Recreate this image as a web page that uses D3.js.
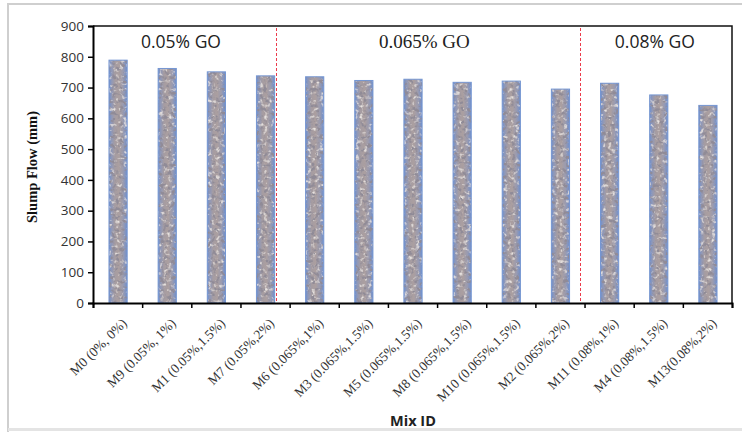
<!DOCTYPE html>
<html><head><meta charset="utf-8">
<script src="https://cdn.jsdelivr.net/npm/d3@7"></script>
<style>body{margin:0;background:#fff}svg{display:block}</style>
</head><body>
<svg id="c" width="742" height="432"></svg>
<script>
const categories = ["M0 (0%, 0%)", "M9 (0.05%, 1%)", "M1 (0.05%,1.5%)", "M7 (0.05%,2%)", "M6 (0.065%,1%)", "M3 (0.065%,1.5%)", "M5 (0.065%,1.5%)", "M8 (0.065%,1.5%)", "M10 (0.065%,1.5%)", "M2 (0.065%,2%)", "M11 (0.08%,1%)", "M4 (0.08%,1.5%)", "M13(0.08%,2%)"];
const slumpFlow = [789, 762, 751, 738, 735, 723, 727, 717, 721, 695, 714, 676, 642];
const yTicks = [0, 100, 200, 300, 400, 500, 600, 700, 800, 900];
const groupLabels = ["0.05% GO", "0.065% GO", "0.08% GO"];
const groupLabelAt = [1.79, 6.74, 11.43];   // in category-index units
const dividerAt = [3.73, 9.9];               // in category-index units

const svg = d3.select("#c");
const m = {l: 93, r: 732, t: 26, b: 303};

// frame
svg.append("path").attr("d", "M8,460 L8,4 L760,4").attr("fill","none").attr("stroke","#cfcfcf").attr("stroke-width",2);
svg.append("line").attr("x1",8).attr("x2",742).attr("y1",429.5).attr("y2",429.5).attr("stroke","#e4e4e4").attr("stroke-width",3);

const x = d3.scaleBand().domain(categories).range([m.l, m.r]).padding(0);
const xi = d3.scaleLinear().domain([0, categories.length]).range([m.l, m.r]);
const y = d3.scaleLinear().domain([0, 900]).range([m.b, m.t]);

const defs = svg.append("defs");
const g = defs.append("linearGradient").attr("id","bg").attr("x1","0").attr("x2","1").attr("y1","0").attr("y2","0");
[["0%","#6f8fcc"],["14%","#8f98b8"],["32%","#a59ca2"],["55%","#ab9fa0"],["78%","#9a9bb0"],["100%","#6f8fcc"]]
  .forEach(([o,c]) => g.append("stop").attr("offset",o).attr("stop-color",c));
const f = defs.append("filter").attr("id","stone").attr("x",0).attr("y",0).attr("width",1).attr("height",1);
f.append("feTurbulence").attr("type","fractalNoise").attr("baseFrequency","0.25").attr("numOctaves",2).attr("seed",7).attr("result","n");
f.append("feColorMatrix").attr("in","n").attr("type","matrix")
  .attr("values","0 0 0 0 0.28  0 0 0 0 0.26  0 0 0 0 0.31  -5 0 0 0 2.45").attr("result","dark");
f.append("feComposite").attr("in","dark").attr("in2","SourceGraphic").attr("operator","in").attr("result","d2");
f.append("feColorMatrix").attr("in","n").attr("type","matrix")
  .attr("values","0 0 0 0 0.80  0 0 0 0 0.76  0 0 0 0 0.74  0 3.5 0 0 -1.9").attr("result","light");
f.append("feComposite").attr("in","light").attr("in2","SourceGraphic").attr("operator","in").attr("result","l2");
const fm = f.append("feMerge");
fm.append("feMergeNode").attr("in","SourceGraphic");
fm.append("feMergeNode").attr("in","l2");
fm.append("feMergeNode").attr("in","d2");

// bars
const bw = x.bandwidth() * 0.37;
const bx = (i) => x(categories[i]) + x.bandwidth()/2 - bw/2 + 0.5;
svg.append("g").selectAll("rect").data(slumpFlow).join("rect")
  .attr("x", (d,i) => bx(i))
  .attr("y", d => y(d))
  .attr("width", bw)
  .attr("height", d => y(0) - y(d))
  .attr("fill", "url(#bg)")
  .attr("filter", "url(#stone)");
svg.append("g").selectAll("rect").data(slumpFlow).join("rect")
  .attr("x", (d,i) => bx(i))
  .attr("y", d => y(d))
  .attr("width", bw)
  .attr("height", d => y(0) - y(d))
  .attr("fill", "none").attr("stroke","#7596d2").attr("stroke-width",1);

// dividers
svg.append("g").selectAll("line").data(dividerAt).join("line")
  .attr("x1", d => Math.round(xi(d)) + 0.5).attr("x2", d => Math.round(xi(d)) + 0.5)
  .attr("y1", m.t + 2).attr("y2", m.b)
  .attr("stroke", "#ec3b4b").attr("stroke-width", 1).attr("stroke-dasharray","3,2");

// plot border top/right
svg.append("path").attr("d", `M${m.l},${m.t} L${m.r},${m.t} L${m.r},${m.b}`)
  .attr("fill","none").attr("stroke","#111").attr("stroke-width",1.5);

// y axis
const ya = svg.append("g").attr("transform",`translate(${m.l},0)`)
  .call(d3.axisLeft(y).tickValues(yTicks).tickSize(5).tickPadding(4));
ya.select(".domain").attr("stroke","#000").attr("stroke-width",2);
ya.selectAll(".tick line").attr("stroke","#000").attr("stroke-width",1.5);
ya.selectAll("text").attr("font-family","'Open Sans', sans-serif").attr("font-size",13.5).attr("fill","#333");

// x axis: ticks at band boundaries
const xa = svg.append("g").attr("transform",`translate(0,${m.b})`)
  .call(d3.axisBottom(xi).tickValues(d3.range(categories.length + 1)).tickSize(5).tickFormat(""));
xa.select(".domain").attr("stroke","#000").attr("stroke-width",2);
xa.selectAll(".tick line").attr("stroke","#000").attr("stroke-width",1.5);

// x labels
svg.append("g").selectAll("text").data(categories).join("text")
  .attr("transform", d => `translate(${x(d) + x.bandwidth()/2 + 10},${m.b + 21}) rotate(-45)`)
  .attr("text-anchor","end")
  .attr("font-family","'Liberation Serif', serif").attr("font-size",13.5).attr("fill","#333")
  .text(d => d);

// group labels
svg.append("g").selectAll("text").data(groupLabels).join("text")
  .attr("x", (d,i) => xi(groupLabelAt[i]))
  .attr("y", 48)
  .attr("text-anchor","middle")
  .attr("font-family", (d,i) => i === 1 ? "'Liberation Serif', serif" : "'Open Sans', sans-serif")
  .attr("font-size", (d,i) => i === 1 ? 19 : 17.5)
  .attr("fill","#222")
  .text(d => d);

// axis titles
svg.append("text").attr("transform","translate(37,167) rotate(-90)").attr("text-anchor","middle")
  .attr("font-family","'Liberation Serif', serif").attr("font-weight","bold").attr("font-size",14.5).attr("fill","#111")
  .text("Slump Flow (mm)");
svg.append("text").attr("x",413).attr("y",426).attr("text-anchor","middle")
  .attr("font-family","'Open Sans', sans-serif").attr("font-weight","bold").attr("font-size",14.5).attr("fill","#222")
  .text("Mix ID");
</script>
</body></html>
